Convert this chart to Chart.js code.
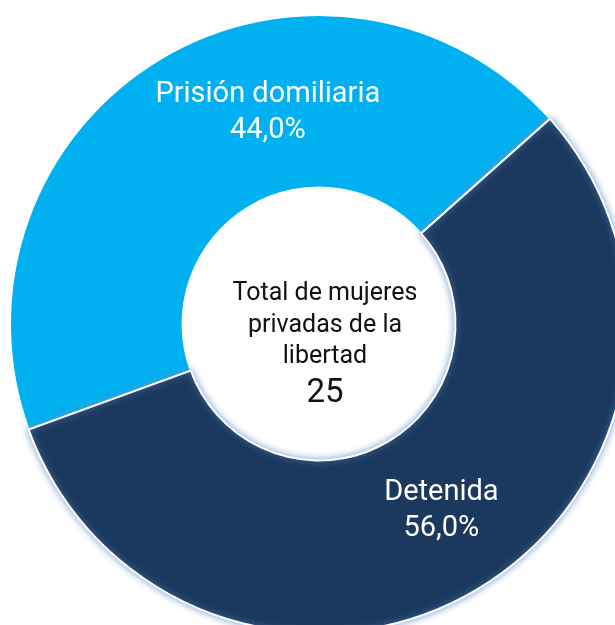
<!DOCTYPE html>
<html>
<head>
<meta charset="utf-8">
<script src="https://cdn.jsdelivr.net/npm/chart.js@4"></script>
<style>
  html, body { margin: 0; padding: 0; background: #fff; overflow: hidden; }
  #wrap { width: 615px; height: 625px; overflow: hidden; position: relative; }
  canvas { position: absolute; left: 0; top: 0; }
</style>
</head>
<body>
<div id="wrap"><canvas id="chart-donut" width="660" height="660"></canvas></div>
<script>
// datos
const categorias = ["Prisión domiliaria", "Detenida"];
const mujeres = [11, 14];
const colores = ["#00B0F0", "#1B395E"];
const centroTexto = ["Total de mujeres", "privadas de la", "libertad"];

const total = mujeres.reduce((a, b) => a + b, 0);

// posicion de las etiquetas (angulo en grados, radio en px)
const posEtiquetas = [
  { ang: -104.1, r: 210 },
  { ang: 57.7, r: 229 }
];

const fmtPct = v => (v / total * 100).toFixed(1).replace(".", ",") + "%";

const glowPlugin = {
  id: "glow",
  afterDatasetsDraw(chart) {
    const arc = chart.getDatasetMeta(0).data[1];
    const ctx = chart.ctx;
    ctx.save();
    ctx.shadowColor = "rgba(110,150,205,0.9)";
    ctx.shadowBlur = 7;
    arc.draw(ctx);
    ctx.restore();
  }
};

const textoPlugin = {
  id: "textos",
  afterDraw(chart) {
    const ctx = chart.ctx;
    const arcs = chart.getDatasetMeta(0).data;
    const cx = arcs[0].x, cy = arcs[0].y;
    ctx.save();
    ctx.textAlign = "center";
    ctx.textBaseline = "alphabetic";

    // etiquetas de cada sector
    arcs.forEach((arc, i) => {
      const p = posEtiquetas[i];
      const a = p.ang * Math.PI / 180;
      const x = cx + Math.cos(a) * p.r;
      const y = cy + Math.sin(a) * p.r;
      ctx.fillStyle = "#ffffff";
      ctx.font = "29px Roboto";
      ctx.fillText(categorias[i], x, y - 18);
      ctx.fillText(fmtPct(mujeres[i]), x, y + 18);
    });

    // texto central
    ctx.fillStyle = "#111111";
    ctx.font = "25px Roboto";
    centroTexto.forEach((t, i) => {
      ctx.fillText(t, cx + 6, cy - 24 + i * 31.5);
    });
    ctx.font = "33px Roboto";
    ctx.fillText(String(total), cx + 6, cy + 78);
    ctx.restore();
  }
};

new Chart(document.getElementById("chart-donut"), {
  type: "doughnut",
  data: {
    labels: categorias,
    datasets: [{
      data: mujeres,
      backgroundColor: colores,
      borderColor: "#ffffff",
      borderWidth: 2
    }]
  },
  options: {
    responsive: false,
    animation: false,
    rotation: 250,
    radius: 309,
    cutout: 136,
    layout: { padding: { left: 10, top: 15, right: 32, bottom: 27 } },
    plugins: {
      legend: { display: false },
      tooltip: { enabled: false }
    }
  },
  plugins: [glowPlugin, textoPlugin]
});
</script>
</body>
</html>
